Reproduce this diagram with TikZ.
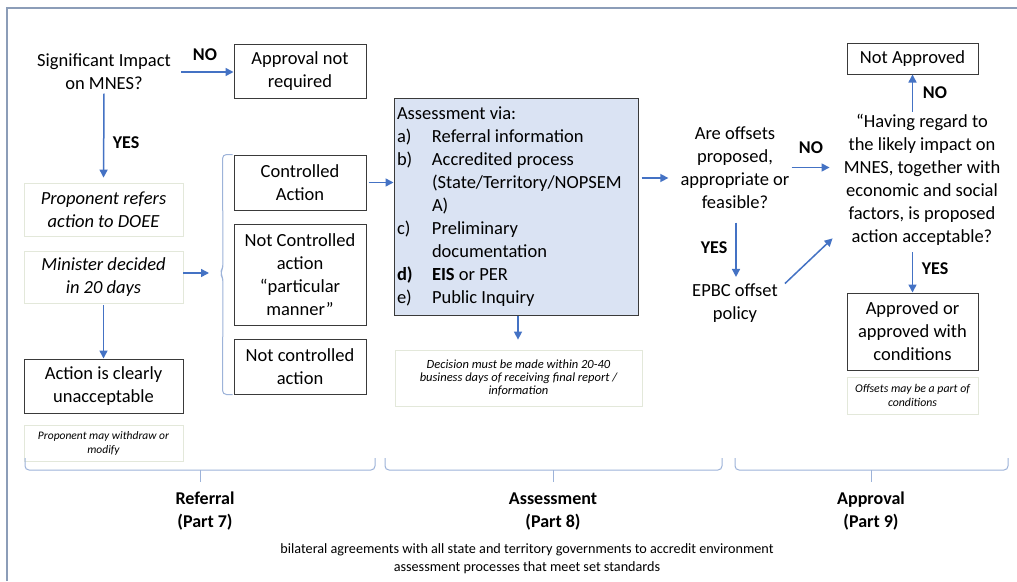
\documentclass[tikz,border=0pt]{standalone}
\usepackage{fontspec}
\setmainfont{Carlito}
\usetikzlibrary{arrows.meta,calc}
\definecolor{arrc}{HTML}{4472C4}
\definecolor{boxc}{HTML}{3A3A3A}
\definecolor{notec}{HTML}{E3E8DA}
\definecolor{brkc}{HTML}{9DB3D9}
\definecolor{framec}{HTML}{8C9DB8}
\definecolor{assessfill}{HTML}{DAE3F3}
\newcommand{\mainsz}{\fontsize{18.5}{23}\selectfont}
\newcommand{\lblsz}{\fontsize{18}{23}\selectfont}
\newcommand{\notesz}{\fontsize{11.5}{14}\selectfont}
\newcommand{\decsz}{\fontsize{12.5}{13}\selectfont}
\newcommand{\botsz}{\fontsize{14.2}{18}\selectfont}
\newcommand{\itemlab}[1]{\makebox[35pt][l]{#1}}
\tikzset{
  box/.style={draw=boxc, line width=1pt, align=center, inner sep=0pt, font=\mainsz},
  note/.style={draw=notec, line width=0.8pt, align=center, inner sep=0pt, font=\notesz\itshape},
  plain/.style={align=center, inner sep=2pt, font=\mainsz},
  lbl/.style={font=\lblsz\bfseries, inner sep=0pt},
  arr/.style={draw=arrc, line width=1.5pt, -{Triangle[length=8pt,width=8pt]}},
  brk/.style={draw=brkc, line width=1pt, rounded corners=4pt},
}
\begin{document}
\begin{tikzpicture}[x=1pt,y=-1pt]
\useasboundingbox (0,0) rectangle (1017,581);
\fill[white] (0,0) rectangle (1017,581);
\draw[framec, line width=2pt] (7,581) -- (7,8) -- (1017,8);

% Referral column
\node[plain, inner sep=4pt] (sig) at (104,71.5) {Significant Impact\\on MNES?};
\node[box, minimum width=132pt, minimum height=54pt] (apnr) at (300,71) {Approval not\\required};
\node[note, font=\mainsz\itshape, minimum width=159pt, minimum height=53pt] (proref) at (103.5,209.5) {Proponent refers\\action to DOEE};
\node[note, font=\mainsz\itshape, minimum width=159pt, minimum height=52pt] (minister) at (103.5,277) {Minister decided\\in 20 days};
\node[box, minimum width=159pt, minimum height=54pt] (unacc) at (103.5,386) {Action is clearly\\unacceptable};
\node[note, minimum width=159pt, minimum height=36pt] (withdraw) at (103.5,443) {Proponent may withdraw or\\modify};

\node[box, minimum width=132pt, minimum height=55pt] (ctrl) at (300,182.5) {Controlled\\Action};
\node[box, minimum width=132pt, minimum height=101pt] (notctrlpm) at (300,274.5) {Not Controlled\\action\\“particular\\manner”};
\node[box, minimum width=132pt, minimum height=55pt] (notctrl) at (300,366.5) {Not controlled\\action};

\node[lbl] (no1) at (205,55) {NO};
\node[lbl] (yes1) at (126,143) {YES};

\coordinate (sigout) at ([xshift=6pt,yshift=-0.5pt]sig.east);
\draw[arr] (sigout) -- (sigout -| apnr.west);
\draw[arr, shorten >=5pt] (sig.south) -- (proref.north);
\draw[arr, shorten <=2pt] (minister.south) -- (unacc.north);
\coordinate (brtip) at (220,273);
\draw[arr, shorten >=11pt] (minister.east |- brtip) -- (brtip);
\draw[brk] ([xshift=-1pt]ctrl.north west) -- ([xshift=-11pt]ctrl.north west)
  -- ($(brtip)+(3,-5)$) -- (brtip) -- ($(brtip)+(3,5)$)
  -- ([xshift=-11pt]notctrl.south west) -- ([xshift=-1pt]notctrl.south west);

% Assessment column
\node[draw=boxc, fill=assessfill, line width=1pt, text width=238pt, inner xsep=3pt, inner ysep=0pt,
      minimum height=217pt, align=flush left, font=\mainsz] (assess) at (516,206.5) {%
Assessment via:\\
\itemlab{a)}Referral information\\
\itemlab{b)}Accredited process\\
\hspace*{35pt}\mbox{(State/Territory/NOPSEM}\\
\hspace*{35pt}A)\\
\itemlab{c)}Preliminary\\
\hspace*{35pt}documentation\\
\itemlab{\textbf{d)}}\textbf{EIS} or PER\\
\itemlab{e)}Public Inquiry};
\node[note, font=\decsz\itshape, minimum width=247pt, minimum height=56pt] (decnote) at (518.5,378)
  {Decision must be made within 20-40\\business days of receiving final report /\\information};
\draw[arr] ([xshift=2pt]ctrl.east) -- (assess.west |- ctrl.east);
\draw[arr, shorten >=10pt] ([xshift=2pt]assess.south) -- ([xshift=2pt]assess.south |- decnote.north);

% Approval column
\node[plain] (offsets) at (735,167.5) {Are offsets\\proposed,\\appropriate or\\feasible?};
\node[plain] (quote) at (922,179.5) {“Having regard to\\the likely impact on\\MNES, together with\\economic and social\\factors, is proposed\\action acceptable?};
\node[box, minimum width=131pt, minimum height=31pt] (notappr) at (912.5,58.5) {Not Approved};
\node[plain] (epbc) at (735,303.5) {EPBC offset\\policy};
\node[box, minimum width=131pt, minimum height=77pt] (approved) at (912.5,331.5) {Approved or\\approved with\\conditions};
\node[note, font=\fontsize{11.8}{14}\selectfont\itshape, minimum width=131pt, minimum height=37pt] (offnote) at (912.5,395.5) {Offsets may be a part of\\conditions};

\node[lbl] (no2) at (811,148) {NO};
\node[lbl] (no3) at (935,93) {NO};
\node[lbl] (yes2) at (714,248) {YES};
\node[lbl] (yes3) at (935,269) {YES};

\coordinate (aout) at ([xshift=3pt,yshift=28.5pt]assess.east);
\draw[arr, shorten >=10pt] (aout) -- (aout -| offsets.west);
\draw[arr, shorten >=12pt] (offsets.east) -- (offsets.east -| quote.west);
\draw[arr] (quote.north -| notappr.south) -- (notappr.south);
\draw[arr, shorten <=5pt] (quote.south -| approved.north) -- (approved.north);
\draw[arr, shorten <=12pt, shorten >=5pt] ([xshift=1pt]offsets.south) -- ([xshift=1pt]epbc.north);
\draw[arr] ([xshift=5pt,yshift=20pt]epbc.east) -- ([xshift=-9pt,yshift=9pt]quote.south west);

% Bottom brackets
\coordinate (b1a) at (25,458); \coordinate (b1b) at (375,458); \coordinate (b1c) at (200,470);
\coordinate (b2a) at (385,458); \coordinate (b2b) at (722,458); \coordinate (b2c) at (553,470);
\coordinate (b3a) at (735,458); \coordinate (b3b) at (1008,458); \coordinate (b3c) at (871,470);
\draw[brk] (b1a) |- (b1c) -| (b1b);
\draw[brk] (b1c) -- ++(0,12);
\draw[brk] (b2a) |- (b2c) -| (b2b);
\draw[brk] (b2c) -- ++(0,12);
\draw[brk] (b3a) |- (b3c) -| (b3b);
\draw[brk] (b3c) -- ++(0,12);

\node[lbl, align=center] (referral) at (205,511) {\strut Referral\\\strut (Part 7)};
\node[lbl, align=center] (assesslbl) at (553,511) {\strut Assessment\\\strut (Part 8)};
\node[lbl, align=center] (approvallbl) at (871,511) {\strut Approval\\\strut (Part 9)};

\node[align=center, font=\botsz, inner sep=0pt] (bilateral) at (527,558.5)
  {bilateral agreements with all state and territory governments to accredit environment\\assessment processes that meet set standards};
\end{tikzpicture}
\end{document}
